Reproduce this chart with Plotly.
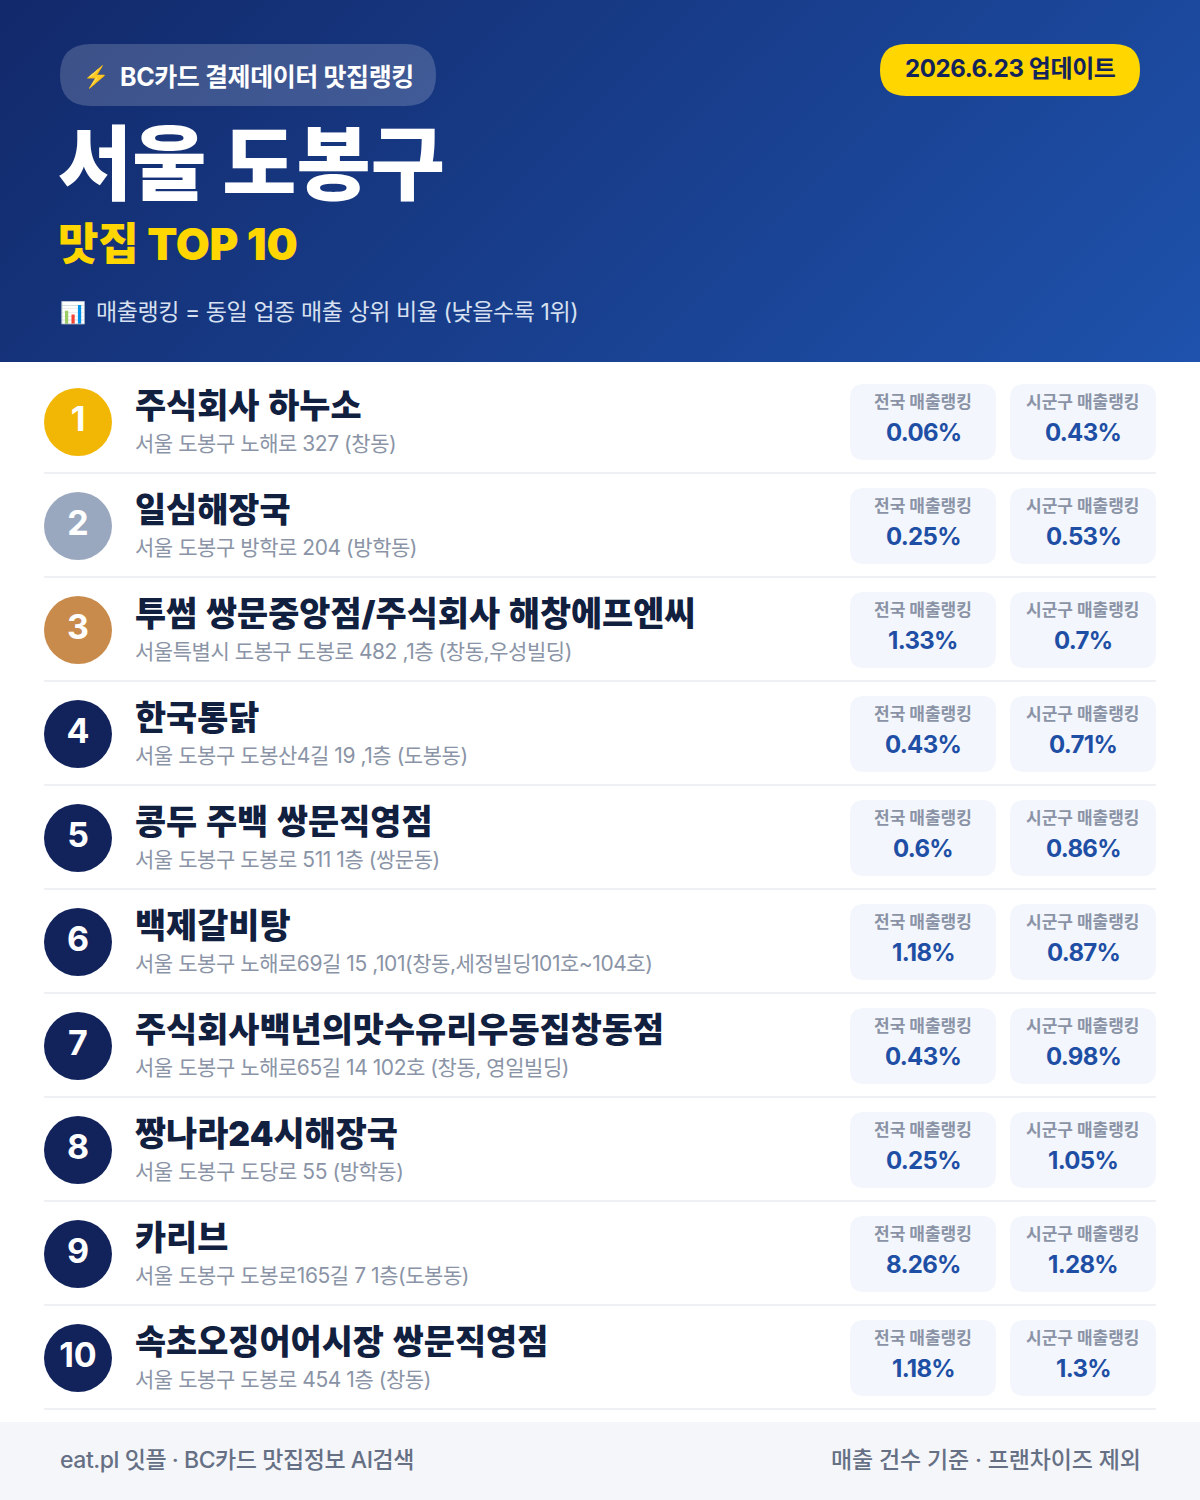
import base64
import plotly.graph_objects as go

ranks = list(range(1, 11))
names = ["주식회사 하누소", "일심해장국", "투썸 쌍문중앙점/주식회사 해창에프엔씨", "한국통닭", "콩두 주백 쌍문직영점",
         "백제갈비탕", "주식회사백년의맛수유리우동집창동점", "짱나라24시해장국", "카리브", "속초오징어어시장 쌍문직영점"]
addresses = ["서울 도봉구 노해로 327 (창동)", "서울 도봉구 방학로 204 (방학동)", "서울특별시 도봉구 도봉로 482 ,1층 (창동,우성빌딩)",
             "서울 도봉구 도봉산4길 19 ,1층 (도봉동)", "서울 도봉구 도봉로 511 1층 (쌍문동)",
             "서울 도봉구 노해로69길 15 ,101(창동,세정빌딩101호~104호)", "서울 도봉구 노해로65길 14 102호 (창동, 영일빌딩)",
             "서울 도봉구 도당로 55 (방학동)", "서울 도봉구 도봉로165길 7 1층(도봉동)", "서울 도봉구 도봉로 454 1층 (창동)"]
national = ["0.06%", "0.25%", "1.33%", "0.43%", "0.6%", "1.18%", "0.43%", "0.25%", "8.26%", "1.18%"]
district = ["0.43%", "0.53%", "0.7%", "0.71%", "0.86%", "0.87%", "0.98%", "1.05%", "1.28%", "1.3%"]
rank_colors = ["#F2B705", "#9AA8BF", "#C98B4B"] + ["#12235C"] * 7

FONT = "Inter, Noto Sans CJK KR"
W, H = 1200, 1500
ROW0, PITCH = 422, 104


def rrect(x0, y0, x1, y1, r):
    return (f"M{x0+r},{y0} L{x1-r},{y0} Q{x1},{y0} {x1},{y0+r} L{x1},{y1-r} Q{x1},{y1} {x1-r},{y1} "
            f"L{x0+r},{y1} Q{x0},{y1} {x0},{y1-r} L{x0},{y0+r} Q{x0},{y0} {x0+r},{y0} Z")


def label(x, y, text, size, color, anchor="left", weight=400, spacing=0, word=0):
    dx = {"left": -1.5, "right": 1.5, "center": 0}[anchor]
    if spacing or word:
        text = f'<span style="letter-spacing:{spacing}px;word-spacing:{word}px">{text}</span>'
    return dict(x=x + dx, y=y - 1.5, text=text, xref="x", yref="y", showarrow=False, xanchor=anchor, yanchor="middle",
                align=anchor, borderpad=0, font=dict(family=FONT, size=size, color=color, weight=weight))


svg = ('<svg xmlns="http://www.w3.org/2000/svg" width="1200" height="362" viewBox="0 0 1200 362">'
       '<defs><linearGradient id="g" gradientUnits="userSpaceOnUse" x1="209.5" y1="-209.5" x2="990.5" y2="571.5">'
       '<stop offset="0" stop-color="#12296A"/><stop offset="1" stop-color="#1E52AC"/></linearGradient></defs>'
       '<rect width="1200" height="362" fill="url(#g)"/></svg>')
gradient = "data:image/svg+xml;base64," + base64.b64encode(svg.encode()).decode()

shapes = [
    dict(type="path", path=rrect(60, 44, 436, 106, 31), fillcolor="rgba(255,255,255,0.18)", line_width=0, layer="above"),
    dict(type="path", path=rrect(880, 44, 1140, 96, 26), fillcolor="#FFD600", line_width=0, layer="above"),
    dict(type="rect", x0=0, x1=W, y0=1422, y1=H, fillcolor="#F5F6FA", line_width=0, layer="below"),
]
annotations = [
    label(83, 78, "⚡", 21, "#FFC83D"),
    label(120, 78, "BC카드 결제데이터 맛집랭킹", 25, "#FFFFFF", weight=700, spacing=-0.4),
    label(1010, 70, "2026.6.23 업데이트", 24, "#12235C", "center", 700, spacing=-0.4),
    label(58.5, 164.5, "서울 도봉구", 80.6, "#FFFFFF", weight=900),
    label(58.5, 245.5, "맛집 TOP 10", 44, "#FFD600", weight=900, spacing=-0.2),
    label(60, 314, "📊", 21, "#FFFFFF"),
    label(96, 313, "매출랭킹 = 동일 업종 매출 상위 비율 (낮을수록 1위)", 23, "#D6E0F0", spacing=-0.42),
    label(60, 1461, "eat.pl 잇플 · BC카드 맛집정보 AI검색", 23, "#667085", weight=500, spacing=-0.44),
    label(1140, 1461, "매출 건수 기준 · 프랜차이즈 제외", 23, "#667085", "right", 500, spacing=-0.15),
]
centers = [ROW0 + PITCH * i for i in range(len(ranks))]
for i, c in enumerate(centers):
    shapes.append(dict(type="line", x0=44, x1=1156, y0=c + 51, y1=c + 51, line=dict(color="#EEF0F3", width=2), layer="below"))
    for x0, head, val in ((850, "전국 매출랭킹", national[i]), (1010, "시군구 매출랭킹", district[i])):
        shapes.append(dict(type="path", path=rrect(x0, c - 38, x0 + 146, c + 38, 14), fillcolor="#F3F6FC", line_width=0, layer="below"))
        annotations.append(label(x0 + 73, c - 19, head, 17, "#8A93A6", "center", 700))
        annotations.append(label(x0 + 73, c + 12, val, 24, "#1E4FA5", "center", 700, spacing=-0.7))
    annotations.append(label(135.5, c - 15.5, names[i], 33.85, "#12203F", weight=900, word=2))
    annotations.append(label(135.5, c + 23, addresses[i], 21, "#8A94A6", spacing=-0.45))

fig = go.Figure(go.Scatter(
    x=[78] * len(ranks), y=centers, mode="markers+text", text=[str(r) for r in ranks], textposition="middle center",
    marker=dict(size=68, color=rank_colors, line_width=0),
    textfont=dict(family=FONT, size=34, color="#FFFFFF", weight=700), hoverinfo="skip", showlegend=False))
fig.update_layout(
    width=W, height=H, margin=dict(l=0, r=0, t=0, b=0), paper_bgcolor="#FFFFFF", plot_bgcolor="rgba(0,0,0,0)",
    xaxis=dict(range=[0, W], visible=False, fixedrange=True), yaxis=dict(range=[H, 0], visible=False, fixedrange=True),
    shapes=shapes, annotations=annotations, showlegend=False,
    images=[dict(source=gradient, xref="x", yref="y", x=0, y=0, sizex=1200, sizey=362, sizing="stretch",
                 xanchor="left", yanchor="top", layer="below")])
fig.write_html("out.html", config={"displayModeBar": False}, post_script="document.body.style.margin='0';")
